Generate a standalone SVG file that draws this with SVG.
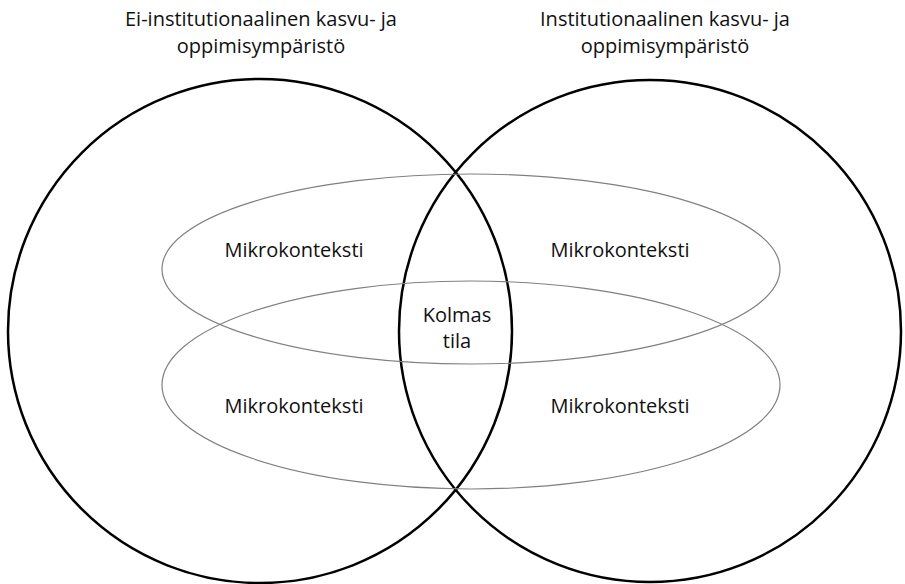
<svg xmlns="http://www.w3.org/2000/svg" width="905" height="584" viewBox="0 0 905 584">
<style>
.circle{fill:none;stroke:#000;stroke-width:2.5}
.ell{fill:none;stroke:#808080;stroke-width:1.2}
text{font-family:"Open Sans","Noto Sans",sans-serif;font-size:20px;fill:#111;text-anchor:middle}
</style>
<rect width="905" height="584" fill="#fff"/>
<g id="connectors"></g>
<g id="left-environment">
<circle class="circle" cx="260" cy="331" r="252"/>
<text x="261" y="26">Ei-institutionaalinen kasvu- ja</text>
<text x="261" y="53">oppimisympäristö</text>
</g>
<g id="right-environment">
<circle class="circle" cx="650" cy="331" r="251"/>
<text x="665" y="26">Institutionaalinen kasvu- ja</text>
<text x="665" y="53">oppimisympäristö</text>
</g>
<g id="upper-micro">
<ellipse class="ell" cx="471" cy="269" rx="309" ry="95"/>
</g>
<g id="lower-micro">
<ellipse class="ell" cx="471" cy="385" rx="309" ry="104"/>
</g>
<g id="micro-top-left"><text x="294" y="257">Mikrokonteksti</text></g>
<g id="micro-top-right"><text x="620" y="257">Mikrokonteksti</text></g>
<g id="micro-bottom-left"><text x="294" y="413">Mikrokonteksti</text></g>
<g id="micro-bottom-right"><text x="620" y="413">Mikrokonteksti</text></g>
<g id="third-space">
<text x="457" y="322">Kolmas</text>
<text x="457" y="348">tila</text>
</g>
</svg>
